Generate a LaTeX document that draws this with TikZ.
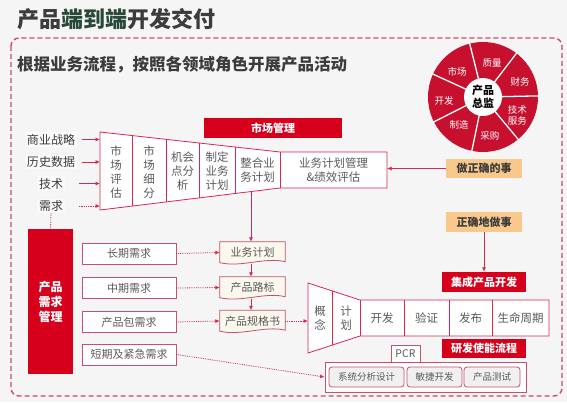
\documentclass[tikz,border=0pt]{standalone}
\usepackage{fontspec}
\setmainfont{Noto Sans CJK SC}
\usetikzlibrary{arrows.meta}
\definecolor{bg}{RGB}{245,245,245}
\definecolor{redbar}{RGB}{214,0,28}
\definecolor{wheelc}{RGB}{198,16,46}
\definecolor{ln}{RGB}{214,40,80}
\definecolor{bd}{RGB}{200,80,110}
\definecolor{txt}{RGB}{90,90,90}
\definecolor{dk}{RGB}{60,60,60}
\definecolor{grn}{RGB}{40,72,56}
\definecolor{org}{RGB}{248,200,140}
\definecolor{cream}{RGB}{250,248,236}
\definecolor{lgray}{RGB}{240,240,240}
\definecolor{bordercol}{RGB}{212,70,110}
\newcommand\fsz[2]{\fontsize{#1}{#2}\selectfont}
\tikzset{
  every node/.style={inner sep=1pt, text=txt},
  redlabel/.style={fill=redbar, text=white, font=\fsz{11}{13}\bfseries, inner sep=0pt},
  reqbox/.style={draw=bd, line width=0.8pt, fill=white, minimum width=94pt, minimum height=21pt, inner sep=0pt, font=\fsz{11}{13}},
  docnode/.style={minimum width=65pt, minimum height=21pt, inner sep=0pt, font=\fsz{11}{13}},
  docline/.style={draw=bd, line width=0.8pt, fill=cream},
  arr/.style={draw=ln, line width=0.8pt, -{Latex[length=4.5pt,width=4pt]}},
  darr/.style={arr, densely dotted},
  orgbox/.style={fill=org, text=dk, font=\fsz{11}{13}\bfseries, minimum width=76pt, minimum height=19pt, inner sep=0pt},
  cell/.style={font=\fsz{11.5}{14}, align=center},
  funnel/.style={draw=ln, line width=0.8pt, fill=white},
  wl/.style={text=white, font=\fsz{9.5}{11}, align=center},
  inp/.style={font=\fsz{12}{14}, text=dk, fill=white!60!bg, inner sep=1.5pt},
  subbox/.style={draw=bd, line width=0.8pt, fill=lgray, rounded corners=3pt, minimum height=20pt, inner sep=0pt, font=\fsz{9.5}{11}},
}
\begin{document}
\begin{tikzpicture}[x=1pt,y=-1pt]
\useasboundingbox (0,0) rectangle (567,402);
\fill[bg] (0,0) rectangle (567,402);

% title and subtitle
\node[anchor=west, font=\fsz{22}{26}\bfseries, inner sep=0pt] (title) at (17,19)
  {\textcolor{dk}{产品}\textcolor{grn}{端到端}\textcolor{dk}{开发交付}};
\draw[bordercol, line width=1.4pt, dash pattern=on 5pt off 3pt, rounded corners=8pt] (11,38) rectangle (562,396);
\node[anchor=west, font=\fsz{16.5}{20}\bfseries, text=dk, inner sep=0pt] (sub) at (17,64.5)
  {根据业务流程，按照各领域角色开展产品活动};

% wheel
\begin{scope}[shift={(483,97)}, x=1pt, y=1pt]
  \fill[wheelc] (0,0) circle (55);
  \foreach \a in {104,52.57,1.14,-50.29,-101.71,-153.14,155.43}
    \draw[white, line width=1.3pt] (\a:18) -- (\a:56);
  \fill[white] (0,0) circle (19);
  \node[font=\fsz{11}{13}\bfseries, text=black, align=center] (pd) at (0,0) {产品\\总监};
  \node[wl] (w1) at (136:36) {市场};
  \node[wl] (w2) at (75:35) {质量};
  \node[wl] (w3) at (22:40) {财务};
  \node[wl] (w4) at (-28:39) {技术\\服务};
  \node[wl] (w5) at (-80:39) {采购};
  \node[wl] (w6) at (-130:37) {制造};
  \node[wl] (w7) at (186:39) {开发};
\end{scope}

% market management funnel
\node[redlabel, minimum width=138pt, minimum height=20pt] (mm) at (273,128) {市场管理};
\filldraw[funnel] (100,132) -- (280,152) -- (387,152) -- (387,188) -- (280,188) -- (100,210) -- cycle;
\draw[draw=ln, line width=0.8pt]
  (132,135.6) -- (132,206.1)
  (166,139.3) -- (166,201.9)
  (199,143)   -- (199,197.9)
  (235,147)   -- (235,193.5)
  (280,152)   -- (280,188);
\node[cell] (c1) at (116,172) {市\\场\\评\\估};
\node[cell] (c2) at (149,172) {市\\场\\细\\分};
\node[cell] (c3) at (182.5,171) {机会\\点分\\析};
\node[cell] (c4) at (217,171) {制定\\业务\\计划};
\node[cell] (c5) at (257.5,170) {整合业\\务计划};
\node[cell] (c6) at (333.5,170) {业务计划管理\\\&绩效评估};

\coordinate (fl) at (100,170);
\node[inp] (s1) at (51,139.5) {商业战略};
\node[inp] (s2) at (51,162) {历史数据};
\node[inp] (s3) at (51,183.5) {技术};
\node[inp] (s4) at (51,206) {需求};
\draw[arr] ([xshift=5pt]s1.east) -- (s1.east -| fl);
\draw[arr] ([xshift=5pt]s2.east) -- (s2.east -| fl);
\draw[arr] ([xshift=14pt]s3.east) -- (s3.east -| fl);
\draw[darr] ([xshift=14pt]s4.east) -- (s4.east -| fl);

% right orange boxes
\node[orgbox] (doright) at (484,168.5) {做正确的事};
\coordinate (c6r) at (387,168.5);
\draw[arr] (doright.west) -- (c6r);
\node[orgbox, minimum height=20pt] (rightdo) at (484,222) {正确地做事};

% product requirement management
\node[redlabel, minimum width=45pt, minimum height=145pt, font=\fsz{12}{15}\bfseries, align=center] (pdm) at (50.5,301.5) {产品\\需求\\管理};
\draw[ln, line width=0.8pt, densely dotted] (s4.south) -- (pdm.north);

\node[reqbox] (r1) at (129,253.5) {长期需求};
\node[reqbox] (r2) at (129,288) {中期需求};
\node[reqbox] (r3) at (129,322) {产品包需求};
\node[reqbox] (r4) at (129,354.5) {短期及紧急需求};

% document shapes
\node[docnode] (biz) at (252.5,252.5) {};
\node[docnode] (road) at (252.5,287.5) {};
\node[docnode] (spec) at (252.5,321) {};
\foreach \n in {biz,road,spec}
  \filldraw[docline] (\n.north west) -- (\n.north east) -- ([yshift=1.5pt]\n.south east)
    .. controls +(-20,-5) and +(22,5) .. ([yshift=0.5pt]\n.south west) -- cycle;
\node[docnode] at (biz) {业务计划};
\node[docnode] at (road) {产品路标};
\node[docnode] at (spec) {产品规格书};

\coordinate (zb) at (251,191.7);
\draw[arr] (zb) -- (zb |- biz.north);
\draw[arr] ([yshift=-1pt]biz.south -| zb) -- (road.north -| zb);
\draw[arr] ([yshift=-1pt]road.south -| zb) -- (spec.north -| zb);

\draw[darr] (r1.east) -- (biz.west);
\draw[darr] (r2.east) -- (road.west);
\draw[darr] (r3.east) -- (spec.west);

% IPD
\node[redlabel, minimum width=84pt, minimum height=20pt] (ipd) at (484,282) {集成产品开发};
\draw[arr] (rightdo.south) -- (ipd.north);
\filldraw[funnel] (308,283) -- (360,300) -- (549,300) -- (549,336) -- (360,336) -- (308,353) -- cycle;
\draw[draw=ln, line width=0.8pt]
  (332,290.8) -- (332,345.2)
  (360,300) -- (360,336)
  (404,300) -- (404,336)
  (449,300) -- (449,336)
  (492,300) -- (492,336);
\node[cell] (k1) at (320,318) {概\\念};
\node[cell] (k2) at (346,318) {计\\划};
\node[cell] (k3) at (382,318) {开发};
\node[cell] (k4) at (426.5,318) {验证};
\node[cell] (k5) at (470.5,318) {发布};
\node[cell] (k6) at (520.5,318) {生命周期};
\coordinate (il) at (308,321);
\draw[darr] (spec.east) -- (il);

% enabling process
\node[redlabel, minimum width=84pt, minimum height=19pt] (rd) at (484,348.5) {研发使能流程};
\node[draw=bd, line width=0.8pt, fill=white, minimum width=201pt, minimum height=30pt, inner sep=0pt] (cont) at (425.5,377) {};
\node[draw=bd, line width=0.8pt, fill=white, minimum width=29pt, minimum height=17pt, inner sep=0pt, font=\fsz{10.5}{12}] (pcr) at (405.5,353.5) {PCR};
\node[subbox, minimum width=75pt] (b1) at (366.5,377) {系统分析设计};
\node[subbox, minimum width=55pt] (b2) at (434.5,377) {敏捷开发};
\node[subbox, minimum width=56pt] (b3) at (492,377) {产品测试};
\draw[darr] (r4.east) -- (cont.west);
\end{tikzpicture}
\end{document}
